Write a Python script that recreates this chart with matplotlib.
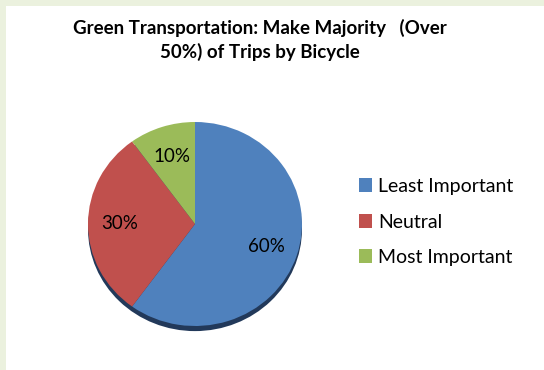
import matplotlib.pyplot as plt
from matplotlib.patches import Circle, Rectangle

labels = ['Least Important', 'Neutral', 'Most Important']
values = [60, 30, 10]
colors = ['#4F81BD', '#C0504D', '#9BBB59']
title = 'Green Transportation: Make Majority   (Over\n50%) of Trips by Bicycle'

plt.rcParams['font.family'] = ['Lato', 'DejaVu Sans']

W, H = 544, 370
fig = plt.figure(figsize=(W / 100, H / 100), dpi=100)
fig.patch.set_facecolor('#EBF1DE')
# white chart area (thin green strip on top and left)
bg = fig.add_axes([6 / W, 0, 1 - 6 / W, (H - 6) / H], zorder=-1)
bg.axis('off')
bg.add_patch(Rectangle((0, 0), 1, 1, transform=bg.transAxes, facecolor='white', edgecolor='none'))

# pie centre (195, 224) px, radii ~107 px across, ~102 px high (slight tilt)
cx, cy, rx, ry = 195, 224, 107, 102
pad = 1.1
ax = fig.add_axes([(cx - rx * pad) / W, (H - cy - ry * pad) / H, 2 * rx * pad / W, 2 * ry * pad / H])

wedges, texts, autotexts = ax.pie(values, colors=colors, startangle=90, counterclock=False,
                                  autopct='%1.0f%%', pctdistance=0.7, radius=1.0,
                                  wedgeprops=dict(edgecolor='none'),
                                  textprops=dict(fontsize=13.5, color='black'))
# dark rim / shadow at bottom
ax.add_patch(Circle((0, -0.05), 1.0, facecolor='#22395A', edgecolor='none', zorder=0.5))
for w in wedges:
    w.set_zorder(2)
for t in autotexts:
    t.set_zorder(3)
ax.set_xlim(-pad, pad)
ax.set_ylim(-pad, pad)
ax.set_aspect('auto')
ax.axis('off')

fig.text(260 / W, 1 - 40 / H, title, ha='center', va='center', fontsize=13.5,
         fontweight='bold', linespacing=1.35)

fig.legend(wedges, labels, loc='center left', bbox_to_anchor=(351 / W, 1 - 222 / H),
           frameon=False, fontsize=14, handlelength=0.7, handleheight=0.7,
           handletextpad=0.3, labelspacing=0.95, borderaxespad=0)

fig.savefig('out.png', dpi=100, facecolor=fig.get_facecolor())
